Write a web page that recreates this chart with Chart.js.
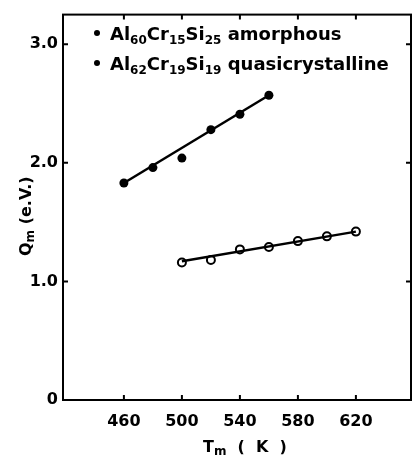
<!DOCTYPE html>
<html>
<head>
<meta charset="utf-8">
<script src="https://cdn.jsdelivr.net/npm/chart.js@4.4.0/dist/chart.umd.min.js"></script>
<style>
  body { margin: 0; background: #fff; }
  canvas { display: block; }
</style>
</head>
<body>
<canvas id="myChart" width="417" height="459"></canvas>
<script>
// tick positions / labels
const xTicks = [460, 500, 540, 580, 620];
const yTicks = [0, 1, 2, 3];
const yTickLabels = ["0", "1.0", "2.0", "3.0"];

// Al60Cr15Si25 amorphous
const amorphousT = [460, 480, 500, 520, 540, 560];
const amorphousQ = [1.83, 1.96, 2.04, 2.28, 2.41, 2.57];
const amorphousFitT = [460, 560];
const amorphousFitQ = [1.83, 2.57];

// Al62Cr19Si19 quasicrystalline
const quasiT = [500, 520, 540, 560, 580, 600, 620];
const quasiQ = [1.16, 1.18, 1.27, 1.29, 1.34, 1.38, 1.42];
const quasiFitT = [500, 620];
const quasiFitQ = [1.17, 1.42];

const toPts = (xs, ys) => xs.map((x, i) => ({ x: x, y: ys[i] }));

const FONT = "DejaVu Sans";

// draws text pieces, [text, isSub]
function drawRich(ctx, parts, x, y, size, subSize, subDrop) {
  parts.forEach(([txt, sub]) => {
    ctx.font = `bold ${sub ? subSize : size}px "${FONT}"`;
    ctx.fillText(txt, x, sub ? y + subDrop : y);
    x += ctx.measureText(txt).width;
  });
  return x;
}

const decor = {
  id: "decor",
  afterDraw(chart) {
    const { ctx, chartArea: a, scales } = chart;
    ctx.save();
    ctx.strokeStyle = "#000";
    ctx.fillStyle = "#000";
    ctx.lineWidth = 2;
    ctx.strokeRect(a.left, a.top, a.right - a.left, a.bottom - a.top);

    // inward ticks on all four sides
    const len = 5;
    ctx.beginPath();
    xTicks.forEach((v) => {
      const px = scales.x.getPixelForValue(v);
      ctx.moveTo(px, a.bottom); ctx.lineTo(px, a.bottom - len);
      ctx.moveTo(px, a.top); ctx.lineTo(px, a.top + len);
    });
    yTicks.forEach((v) => {
      const py = scales.y.getPixelForValue(v);
      ctx.moveTo(a.left, py); ctx.lineTo(a.left + len, py);
      ctx.moveTo(a.right, py); ctx.lineTo(a.right - len, py);
    });
    ctx.stroke();

    // legend
    ctx.textBaseline = "alphabetic";
    ctx.textAlign = "left";
    const lx = a.left + 47;
    ctx.beginPath(); ctx.arc(a.left + 34, 33, 3, 0, Math.PI * 2); ctx.fill();
    drawRich(ctx, [["Al", 0], ["60", 1], ["Cr", 0], ["15", 1], ["Si", 0], ["25", 1], [" amorphous", 0]],
      lx, 40, 18, 12, 4);
    ctx.beginPath(); ctx.arc(a.left + 34, 63, 3, 0, Math.PI * 2); ctx.fill();
    drawRich(ctx, [["Al", 0], ["62", 1], ["Cr", 0], ["19", 1], ["Si", 0], ["19", 1], [" quasicrystalline", 0]],
      lx, 70, 18, 12, 4);

    // x title
    drawRich(ctx, [["T", 0], ["m", 1], ["  (  K  )", 0]], 203, 452, 16, 12, 3);

    // y title
    ctx.translate(31, 256);
    ctx.rotate(-Math.PI / 2);
    drawRich(ctx, [["Q", 0], ["m", 1], [" (e.V.)", 0]], 0, 0, 16, 12, 3);
    ctx.restore();
  }
};

const ctx = document.getElementById("myChart").getContext("2d");
const myChart = new Chart(ctx, {
  type: "scatter",
  data: {
    datasets: [
      {
        data: toPts(amorphousFitT, amorphousFitQ),
        showLine: true,
        borderColor: "#000",
        borderWidth: 2.5,
        pointRadius: 0,
      },
      {
        data: toPts(quasiFitT, quasiFitQ),
        showLine: true,
        borderColor: "#000",
        borderWidth: 2.5,
        pointRadius: 0,
      },
      {
        label: "Al60Cr15Si25 amorphous",
        data: toPts(amorphousT, amorphousQ),
        pointRadius: 4.5,
        backgroundColor: "#000",
        borderColor: "#000",
        borderWidth: 0,
      },
      {
        label: "Al62Cr19Si19 quasicrystalline",
        data: toPts(quasiT, quasiQ),
        pointRadius: 4,
        backgroundColor: "#fff",
        borderColor: "#000",
        borderWidth: 2,
      },
    ],
  },
  options: {
    responsive: false,
    animation: false,
    layout: { padding: { top: 13, right: 2, left: 0, bottom: 0 } },
    plugins: {
      legend: { display: false },
      tooltip: { enabled: false },
    },
    scales: {
      x: {
        type: "linear",
        min: 418,
        max: 658,
        afterBuildTicks: (s) => { s.ticks = xTicks.map((v) => ({ value: v })); },
        afterFit: (s) => { s.height = 59; },
        grid: { display: false, tickLength: 0 },
        border: { display: false },
        ticks: {
          color: "#000",
          padding: 12,
          font: { family: FONT, size: 16, weight: "bold" },
          callback: (v) => String(v),
        },
      },
      y: {
        type: "linear",
        min: 0,
        max: 3.25,
        afterBuildTicks: (s) => { s.ticks = yTicks.map((v) => ({ value: v })); },
        afterFit: (s) => { s.width = 63; },
        grid: { display: false, tickLength: 0 },
        border: { display: false },
        ticks: {
          color: "#000",
          padding: 5,
          font: { family: FONT, size: 16, weight: "bold" },
          callback: (v) => yTickLabels[yTicks.indexOf(v)],
        },
      },
    },
  },
  plugins: [decor],
});
</script>
</body>
</html>
